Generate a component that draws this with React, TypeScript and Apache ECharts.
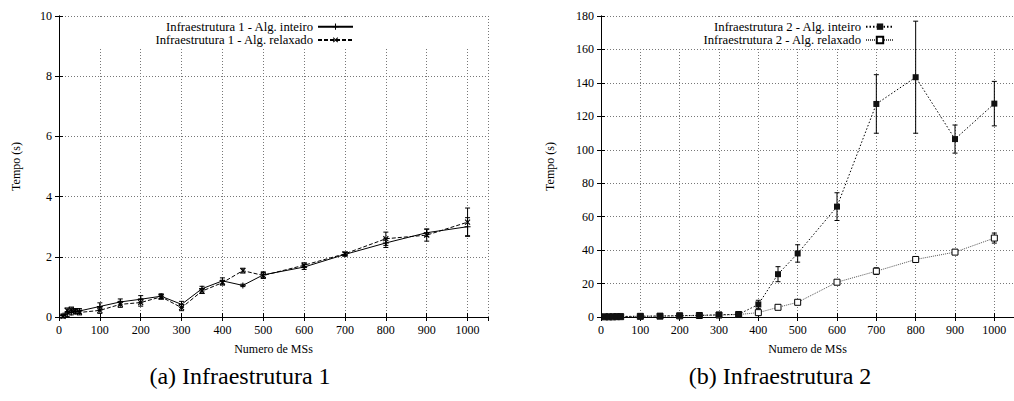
import React, { useEffect, useRef } from "react";
import * as echarts from "echarts";

const FONT = "serif";

// Number of MSs (x positions)
const numMSs = [10, 20, 30, 40, 50, 100, 150, 200, 250, 300, 350, 400, 450, 500, 600, 700, 800, 900, 1000];

// Infraestrutura 1
const infra1Inteiro = [0.05, 0.1, 0.15, 0.18, 0.2, 0.35, 0.5, 0.59, 0.69, 0.42, 0.94, 1.2, 1.05, 1.4, 1.66, 2.08, 2.46, 2.8, 3.0];
const infra1InteiroErr = [0.05, 0.08, 0.08, 0.08, 0.08, 0.12, 0.1, 0.12, 0.08, 0.1, 0.08, 0.1, 0.04, 0.1, 0.08, 0.06, 0.15, 0.12, 0.3];
const infra1Relaxado = [0.02, 0.22, 0.25, 0.2, 0.15, 0.22, 0.42, 0.48, 0.67, 0.31, 0.86, 1.14, 1.54, 1.38, 1.72, 2.1, 2.6, 2.72, 3.15];
const infra1RelaxadoErr = [0.05, 0.08, 0.08, 0.08, 0.08, 0.1, 0.1, 0.12, 0.08, 0.1, 0.08, 0.08, 0.08, 0.1, 0.08, 0.06, 0.22, 0.2, 0.47];

// Infraestrutura 2
const infra2Inteiro = [0.1, 0.1, 0.2, 0.2, 0.3, 0.5, 0.6, 0.8, 1.0, 1.3, 1.6, 7.5, 25.6, 38, 66, 127.4, 143.4, 106.4, 127.6];
const infra2InteiroErr = [0, 0, 0, 0, 0, 0.2, 0.2, 0.3, 0.3, 0.3, 0.4, 2.5, 4.5, 5.2, 8.3, 17.5, 33.5, 8.4, 13.3];
const infra2Relaxado = [0.1, 0.1, 0.1, 0.2, 0.2, 0.4, 0.5, 0.7, 0.9, 1.2, 1.5, 2.6, 5.8, 8.8, 20.8, 27.4, 34.4, 38.8, 47.2];
const infra2RelaxadoErr = [0, 0, 0, 0, 0, 0.1, 0.1, 0.2, 0.2, 0.2, 0.3, 0.5, 0.6, 0.8, 1.0, 2.0, 1.4, 1.4, 3.0];

const yTicks1 = { min: 0, max: 10, interval: 2 };
const yTicks2 = { min: 0, max: 180, interval: 20 };
const xTicks = { min: 0, max: 1050, interval: 100 };

const names = {
  i1: "Infraestrutura 1 - Alg. inteiro",
  r1: "Infraestrutura 1 - Alg. relaxado",
  i2: "Infraestrutura 2 - Alg. inteiro",
  r2: "Infraestrutura 2 - Alg. relaxado",
};

const PLUS = "path://M0.42,0L0.58,0L0.58,0.42L1,0.42L1,0.58L0.58,0.58L0.58,1L0.42,1L0.42,0.58L0,0.58L0,0.42L0.42,0.42Z";

function pairs(vals: number[]) {
  return numMSs.map((x, i) => [x, vals[i]]);
}
function errs(vals: number[], e: number[]) {
  return numMSs.map((x, i) => [x, vals[i] - e[i], vals[i] + e[i]]);
}

function errorSeries(data: number[][], gi: number) {
  return {
    type: "custom",
    xAxisIndex: gi * 2,
    yAxisIndex: gi * 2,
    data,
    encode: { x: 0, y: [1, 2] },
    z: 3,
    silent: true,
    renderItem: (params: any, api: any) => {
      const x = api.value(0);
      const lo = api.value(1);
      const hi = api.value(2);
      const p1 = api.coord([x, lo]);
      const p2 = api.coord([x, hi]);
      if (Math.abs(p1[1] - p2[1]) < 1.5) return { type: "group", children: [] };
      const w = 2.5;
      const st = { stroke: "#000", lineWidth: 1 };
      return {
        type: "group",
        children: [
          { type: "line", shape: { x1: p1[0], y1: p1[1], x2: p2[0], y2: p2[1] }, style: st },
          { type: "line", shape: { x1: p1[0] - w, y1: p1[1], x2: p1[0] + w, y2: p1[1] }, style: st },
          { type: "line", shape: { x1: p2[0] - w, y1: p2[1], x2: p2[0] + w, y2: p2[1] }, style: st },
        ],
      };
    },
  };
}

const axisText = { fontFamily: FONT, fontSize: 12, color: "#000" };
const fmt = (v: number) => String(v);

function xAxes(gi: number) {
  return [
    {
      type: "value",
      gridIndex: gi,
      position: "bottom",
      ...xTicks,
      name: "Numero de MSs",
      nameLocation: "middle",
      nameGap: 26,
      nameTextStyle: axisText,
      axisLine: { show: true, lineStyle: { color: "#000", width: 1 } },
      axisTick: { show: true, inside: true, length: 4, lineStyle: { color: "#000" } },
      axisLabel: { ...axisText, margin: 7, showMaxLabel: false, formatter: fmt },
      splitLine: { show: true, lineStyle: { color: "#777", type: [1, 2], width: 1 } },
    },
    {
      type: "value",
      gridIndex: gi,
      position: "top",
      ...xTicks,
      z: 2,
      axisLine: { show: true, lineStyle: { color: "#000", width: 1 } },
      axisTick: { show: true, inside: true, length: 4, lineStyle: { color: "#000" } },
      axisLabel: { show: false },
      splitLine: { show: false },
    },
  ];
}

function yAxes(gi: number, ticks: any) {
  return [
    {
      type: "value",
      gridIndex: gi,
      position: "left",
      ...ticks,
      name: "Tempo (s)",
      nameLocation: "middle",
      nameGap: gi === 0 ? 37 : 45,
      nameRotate: 90,
      nameTextStyle: axisText,
      axisLine: { show: true, lineStyle: { color: "#000", width: 1 } },
      axisTick: { show: true, inside: true, length: 4, lineStyle: { color: "#000" } },
      axisLabel: { ...axisText, margin: 7, formatter: fmt },
      splitLine: { show: true, lineStyle: { color: "#777", type: [1, 2], width: 1 } },
    },
    {
      type: "value",
      gridIndex: gi,
      position: "right",
      ...ticks,
      z: 2,
      axisLine: { show: true, lineStyle: { color: "#000", width: 1 } },
      axisTick: { show: true, inside: true, length: 4, lineStyle: { color: "#000" } },
      axisLabel: { show: false },
      splitLine: { show: false },
    },
  ];
}

export default function App() {
  const ref = useRef<HTMLDivElement>(null);
  useEffect(() => {
    if (!ref.current) return;
    const chart = echarts.init(ref.current, null, { renderer: "svg" });
    const legendText = { fontFamily: FONT, fontSize: 12.7, color: "#000", lineHeight: 13.3 };
    chart.setOption({
      animation: false,
      backgroundColor: "#fff",
      textStyle: { fontFamily: FONT },
      grid: [
        { left: 59, top: 16, width: 429, height: 301 },
        { left: 601, top: 16, width: 421, height: 301 },
      ],
      xAxis: [...xAxes(0), ...xAxes(1)],
      yAxis: [...yAxes(0, yTicks1), ...yAxes(1, yTicks2)],
      legend: [
        {
          data: [names.i1, names.r1],
          orient: "vertical",
          right: 660,
          top: 20,
          align: "right",
          itemWidth: 35,
          itemHeight: 8,
          itemGap: 0,
          padding: 0,
          textStyle: legendText,
        },
        {
          data: [names.i2, names.r2],
          orient: "vertical",
          right: 119,
          top: 20,
          align: "right",
          itemWidth: 28,
          itemHeight: 8,
          itemGap: 0,
          padding: 0,
          textStyle: legendText,
        },
      ],
      graphic: [
        { type: "rect", shape: { x: 60, y: 17, width: 427, height: 30 }, style: { fill: "#fff" }, z: 1, silent: true },
        { type: "rect", shape: { x: 602, y: 17, width: 419, height: 30 }, style: { fill: "#fff" }, z: 1, silent: true },
        {
          type: "text",
          x: 240,
          y: 376,
          z: 5,
          style: { text: "(a) Infraestrutura 1", fontFamily: FONT, fontSize: 24, fill: "#000", align: "center", verticalAlign: "middle" },
        },
        {
          type: "text",
          x: 780,
          y: 376,
          z: 5,
          style: { text: "(b) Infraestrutura 2", fontFamily: FONT, fontSize: 24, fill: "#000", align: "center", verticalAlign: "middle" },
        },
      ],
      series: [
        errorSeries(errs(infra1Inteiro, infra1InteiroErr), 0),
        errorSeries(errs(infra1Relaxado, infra1RelaxadoErr), 0),
        errorSeries(errs(infra2Inteiro, infra2InteiroErr), 1),
        errorSeries(errs(infra2Relaxado, infra2RelaxadoErr), 1),
        {
          name: names.i1,
          type: "line",
          xAxisIndex: 0,
          yAxisIndex: 0,
          data: pairs(infra1Inteiro),
          symbol: PLUS,
          symbolSize: 6,
          lineStyle: { color: "#000", width: 1, type: "solid" },
          itemStyle: { color: "#000" },
          z: 4,
        },
        {
          name: names.r1,
          type: "line",
          xAxisIndex: 0,
          yAxisIndex: 0,
          data: pairs(infra1Relaxado),
          symbol: PLUS,
          symbolRotate: 45,
          symbolSize: 7,
          lineStyle: { color: "#000", width: 1, type: [4, 2] },
          itemStyle: { color: "#000" },
          z: 4,
        },
        {
          name: names.r2,
          type: "line",
          xAxisIndex: 2,
          yAxisIndex: 2,
          data: pairs(infra2Relaxado),
          symbol: "rect",
          symbolSize: 6,
          lineStyle: { color: "#555", width: 1, type: [1, 1] },
          itemStyle: { color: "#fff", borderColor: "#000", borderWidth: 1 },
          z: 4,
        },
        {
          name: names.i2,
          type: "line",
          xAxisIndex: 2,
          yAxisIndex: 2,
          data: pairs(infra2Inteiro),
          symbol: "rect",
          symbolSize: 6,
          lineStyle: { color: "#000", width: 1, type: [1.5, 2] },
          itemStyle: { color: "#111" },
          z: 5,
        },
      ],
    });
    return () => chart.dispose();
  }, []);
  return (
    <div
      ref={ref}
      style={{ position: "fixed", left: 0, top: 0, width: 1014, height: 401, overflow: "hidden", background: "#fff" }}
    />
  );
}
